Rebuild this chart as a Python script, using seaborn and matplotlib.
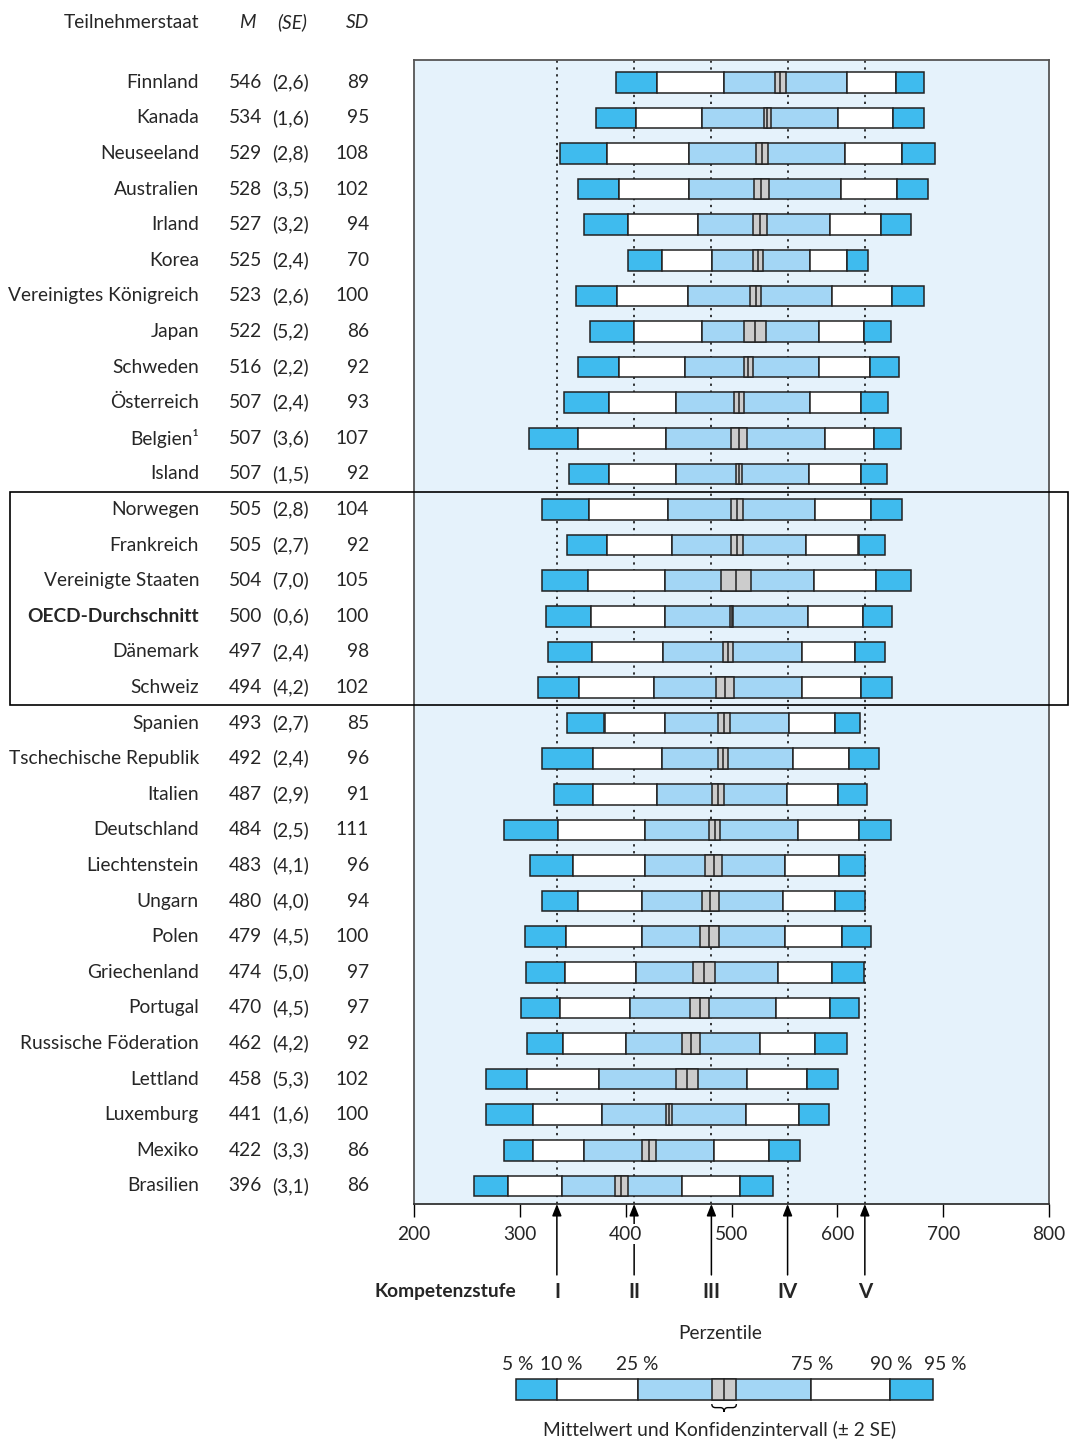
import numpy as np
import pandas as pd
import matplotlib
matplotlib.use('Agg')
import matplotlib.pyplot as plt
import matplotlib.transforms as mtransforms
from matplotlib.patches import Rectangle, PathPatch
from matplotlib.path import Path
import seaborn as sns

sns.set_theme(style='white')
plt.rcParams['font.family'] = ['Lato', 'DejaVu Sans']

countries = ['Finnland', 'Kanada', 'Neuseeland', 'Australien', 'Irland', 'Korea',
             'Vereinigtes Königreich', 'Japan', 'Schweden', 'Österreich', 'Belgien¹',
             'Island', 'Norwegen', 'Frankreich', 'Vereinigte Staaten', 'OECD-Durchschnitt',
             'Dänemark', 'Schweiz', 'Spanien', 'Tschechische Republik', 'Italien',
             'Deutschland', 'Liechtenstein', 'Ungarn', 'Polen', 'Griechenland', 'Portugal',
             'Russische Föderation', 'Lettland', 'Luxemburg', 'Mexiko', 'Brasilien']
means = [546, 534, 529, 528, 527, 525, 523, 522, 516, 507, 507, 507, 505, 505, 504, 500,
         497, 494, 493, 492, 487, 484, 483, 480, 479, 474, 470, 462, 458, 441, 422, 396]
ses = [2.6, 1.6, 2.8, 3.5, 3.2, 2.4, 2.6, 5.2, 2.2, 2.4, 3.6, 1.5, 2.8, 2.7, 7.0, 0.6,
       2.4, 4.2, 2.7, 2.4, 2.9, 2.5, 4.1, 4.0, 4.5, 5.0, 4.5, 4.2, 5.3, 1.6, 3.3, 3.1]
sds = [89, 95, 108, 102, 94, 70, 100, 86, 92, 93, 107, 92, 104, 92, 105, 100,
       98, 102, 85, 96, 91, 111, 96, 94, 100, 97, 97, 92, 102, 100, 86, 86]
p5 = [391, 372, 338, 355, 361, 402, 353, 366, 355, 342, 309, 346, 321, 345, 321, 325,
      327, 317, 345, 321, 332, 285, 310, 321, 305, 306, 301, 307, 268, 268, 285, 257]
p10 = [430, 410, 382, 394, 402, 434, 392, 408, 394, 384, 355, 384, 365, 382, 364, 367,
       368, 356, 380, 369, 369, 336, 350, 355, 344, 343, 338, 341, 307, 312, 312, 289]
p25 = [493, 472, 460, 460, 468, 482, 459, 472, 456, 448, 438, 448, 440, 444, 437, 437,
       435, 427, 437, 434, 430, 418, 418, 415, 415, 410, 404, 400, 375, 378, 361, 340]
p75 = [609, 601, 607, 603, 593, 574, 595, 583, 583, 574, 588, 573, 579, 570, 578, 572,
       567, 567, 554, 558, 552, 563, 551, 549, 551, 544, 542, 527, 515, 514, 483, 453]
p90 = [655, 653, 661, 656, 641, 609, 652, 625, 631, 622, 635, 622, 632, 620, 637, 624,
       617, 622, 598, 611, 601, 620, 602, 598, 604, 595, 593, 579, 571, 564, 535, 508]
p95 = [682, 682, 692, 686, 670, 629, 682, 651, 658, 648, 660, 647, 661, 645, 670, 652,
       645, 652, 621, 639, 628, 651, 626, 626, 632, 625, 620, 609, 601, 592, 565, 539]

levels = [335, 408, 481, 553, 626]
level_names = ['I', 'II', 'III', 'IV', 'V']
xticks = [200, 300, 400, 500, 600, 700, 800]

# schematic legend bar
legend_pcts = [296, 335, 412, 575, 650, 690]
legend_mean = 493
legend_se = 5.8
legend_labels = ['5 %', '10 %', '25 %', '75 %', '90 %', '95 %']
legend_label_shift = [2, 4, -1, 1, 1, 12]

df = pd.DataFrame({'land': countries, 'M': means, 'SE': ses, 'SD': sds,
                   'p5': p5, 'p10': p10, 'p25': p25, 'p75': p75, 'p90': p90, 'p95': p95})

OUTER = '#3fbbee'
INNER = '#a3d6f5'
PANEL = '#e5f2fb'
CI = '#cccccc'
EDGE = '#222222'
FS = 13.8
H = 0.58

W, Hpx = 1070, 1442
fig = plt.figure(figsize=(W / 100, Hpx / 100), dpi=100)
ax = fig.add_axes([414 / W, 1 - 1204 / Hpx, 635 / W, 1144 / Hpx])
ax.set_facecolor(PANEL)


def draw_row(y, q, mean, se, clip=True):
    segs = [(q[0], q[1], OUTER), (q[1], q[2], 'white'), (q[2], q[3], INNER),
            (q[3], q[4], 'white'), (q[4], q[5], OUTER)]
    for a, b, c in segs:
        ax.barh(y, b - a, left=a, height=H, color=c, edgecolor=EDGE, linewidth=1.1,
                zorder=2, clip_on=clip)
    ax.barh(y, 4 * se, left=mean - 2 * se, height=H, color=CI, edgecolor=EDGE,
            linewidth=1.1, zorder=3, clip_on=clip)
    ax.plot([mean, mean], [y - H / 2, y + H / 2], color=EDGE, lw=1.1, zorder=4,
            clip_on=clip)


for i, r in df.iterrows():
    draw_row(i, [r.p5, r.p10, r.p25, r.p75, r.p90, r.p95], r.M, r.SE)

for lv in levels:
    ax.axvline(lv, color='black', ls=(0, (1.5, 3)), lw=1.1, zorder=1)

ax.set_xlim(200, 800)
ax.set_ylim(31.51, -0.626)
ax.set_yticks([])
ax.set_xticks(xticks)
ax.set_xticklabels([])
ax.tick_params(axis='x', direction='out', length=9, width=1, color='black', bottom=True)
xt = ax.get_xaxis_transform()
for v in xticks:
    ax.text(v, -0.0265, str(v), transform=xt, ha='center', va='center', fontsize=FS,
            zorder=6, bbox=dict(facecolor='white', edgecolor='none', pad=1))
for s in ['top', 'left', 'right']:
    ax.spines[s].set_color('#555555')
    ax.spines[s].set_linewidth(1.3)
ax.spines['bottom'].set_color('#333333')
ax.spines['bottom'].set_linewidth(1.3)

# arrows for competence levels
for lv, nm in zip(levels, level_names):
    ax.annotate('', xy=(lv, 0), xycoords=('data', 'axes fraction'),
                xytext=(lv, -0.062), textcoords=('data', 'axes fraction'),
                arrowprops=dict(arrowstyle='-|>,head_length=0.5,head_width=0.2',
                                color='black', lw=1.1, mutation_scale=14,
                                shrinkA=0, shrinkB=0),
                zorder=1, annotation_clip=False)
    ax.text(lv, -0.0765, nm, transform=xt, ha='center', va='center',
            fontsize=FS + 1, fontweight='bold')
fig.text(516 / W, 1 - 1291 / Hpx, 'Kompetenzstufe', ha='right', va='center',
         fontsize=FS, fontweight='bold')

# table on the left
tr = mtransforms.blended_transform_factory(fig.transFigure, ax.transData)
for i, r in df.iterrows():
    bold = 'bold' if r.land.startswith('OECD') else 'normal'
    ax.text(199 / W, i, r.land, transform=tr, ha='right', va='center', fontsize=FS,
            fontweight=bold)
    ax.text(262 / W, i, f'{r.M}', transform=tr, ha='right', va='center', fontsize=FS)
    ax.text(309 / W, i, '(' + f'{r.SE:.1f}'.replace('.', ',') + ')', transform=tr,
            ha='right', va='center', fontsize=FS)
    ax.text(369 / W, i, f'{r.SD}', transform=tr, ha='right', va='center', fontsize=FS)

hy = 1 - 22 / Hpx
fig.text(199 / W, hy, 'Teilnehmerstaat', ha='right', va='center', fontsize=FS)
fig.text(247 / W, hy, 'M', ha='center', va='center', fontsize=FS, style='italic')
fig.text(292 / W, hy, '(SE)', ha='center', va='center', fontsize=FS, style='italic')
fig.text(369 / W, hy, 'SD', ha='right', va='center', fontsize=FS, style='italic')

# frame around the middle group
box = Rectangle((10 / W, 11.5), 1058 / W, 6.0, transform=tr, fill=False,
                edgecolor='black', lw=1.2, clip_on=False, zorder=5)
fig.add_artist(box)

# legend
ly = 36.72
draw_row(ly, legend_pcts, legend_mean, legend_se, clip=False)
ax.text(489, 35.16, 'Perzentile', ha='center', va='center', fontsize=FS)
for v, t, d in zip(legend_pcts, legend_labels, legend_label_shift):
    ax.text(v + d, 36.03, t, ha='center', va='center', fontsize=FS)
lo, hi = legend_mean - 2 * legend_se, legend_mean + 2 * legend_se
top = ly + H / 2 + 0.12
mid = top + 0.1
tip = top + 0.22
q = (hi - lo) * 0.15
verts = [(lo, top), (lo, mid), (lo + q, mid), (legend_mean - q, mid),
         (legend_mean, mid), (legend_mean, tip), (legend_mean, mid),
         (legend_mean + q, mid), (hi - q, mid), (hi, mid), (hi, top)]
codes = [Path.MOVETO, Path.CURVE3, Path.CURVE3, Path.LINETO, Path.CURVE3, Path.CURVE3,
         Path.CURVE3, Path.CURVE3, Path.LINETO, Path.CURVE3, Path.CURVE3]
ax.add_patch(PathPatch(Path(verts, codes), fill=False, edgecolor='black', lw=1,
                       clip_on=False))
ax.text(489, 37.83, 'Mittelwert und Konfidenzintervall (± 2 SE)', ha='center',
        va='center', fontsize=FS)

ax.set_xlim(200, 800)
ax.set_ylim(31.51, -0.626)
fig.savefig('out.png', dpi=100, facecolor='white')
